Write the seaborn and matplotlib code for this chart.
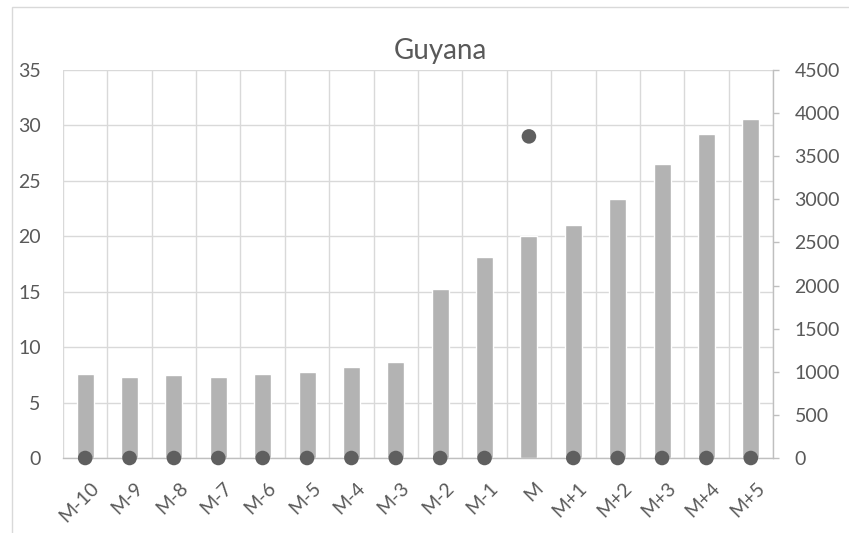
import matplotlib
matplotlib.use("Agg")
import matplotlib.pyplot as plt
import matplotlib.transforms as mtransforms
from matplotlib.patches import Rectangle
from matplotlib.ticker import MultipleLocator, FixedLocator
import seaborn as sns
import pandas as pd

# Monthly series around reference month M
months = ["M-10", "M-9", "M-8", "M-7", "M-6", "M-5", "M-4", "M-3",
          "M-2", "M-1", "M", "M+1", "M+2", "M+3", "M+4", "M+5"]
bar_values = [7.6, 7.3, 7.5, 7.3, 7.6, 7.8, 8.2, 8.7,
              15.2, 18.1, 20.0, 21.0, 23.4, 26.5, 29.2, 30.6]
dot_values = [0, 0, 0, 0, 0, 0, 0, 0,
              0, 0, 3730, 0, 0, 0, 0, 0]

title = "Guyana"

sns.set_theme(style="white")
plt.rcParams["font.family"] = ["Lato", "DejaVu Sans"]

text_color = "#595959"
grid_color = "#d9d9d9"
axis_color = "#bfbfbf"
bar_color = "#b3b3b3"
dot_color = "#5f5f5f"

df = pd.DataFrame({"month": months, "bars": bar_values, "dots": dot_values})

W, H = 849, 533
fig = plt.figure(figsize=(W / 100, H / 100), dpi=100)
fig.patch.set_facecolor("white")

# chart-area border (runs off the right and bottom edges)
fig.add_artist(Rectangle((12 / W, -0.05), 1.2, 1 - 7 / H + 0.05,
                         transform=fig.transFigure, fill=False,
                         edgecolor=grid_color, linewidth=1.0, zorder=0))

ax = fig.add_axes([63 / W, 1 - 458 / H, (773 - 63) / W, (458 - 70) / H])
ax.set_facecolor("none")

sns.barplot(data=df, x="month", y="bars", color=bar_color, width=0.385,
            saturation=1, ax=ax, zorder=2)

ax.set_ylim(0, 35)
ax.yaxis.set_major_locator(MultipleLocator(5))
ax.set_xlim(-0.5, len(months) - 0.5)
ax.xaxis.set_minor_locator(FixedLocator([i - 0.5 for i in range(len(months) + 1)]))
ax.grid(True, which="major", axis="y", color=grid_color, linewidth=1.0, zorder=0)
ax.grid(True, which="minor", axis="x", color=grid_color, linewidth=1.0, zorder=0)
ax.set_axisbelow(True)
ax.set_xlabel("")
ax.set_ylabel("")
for s in ["top", "right", "left"]:
    ax.spines[s].set_visible(False)
ax.spines["bottom"].set_color(axis_color)
ax.spines["bottom"].set_linewidth(1.0)
ax.tick_params(axis="y", length=0, labelsize=14, labelcolor=text_color, pad=16)
ax.tick_params(axis="x", which="both", length=0, labelbottom=False)

# slanted month labels hung below the axis, one per category position
label_tf = (mtransforms.blended_transform_factory(ax.transData, ax.transAxes)
            + mtransforms.ScaledTranslation(11 / 100, -27 / 100, fig.dpi_scale_trans))
for i, m in enumerate(months):
    ax.text(i, 0, m, transform=label_tf, rotation=45, rotation_mode="anchor",
            ha="right", va="center", fontsize=14, color=text_color)

ax2 = ax.twinx()
sns.scatterplot(data=df, x="month", y="dots", color=dot_color, s=110,
                edgecolor="none", ax=ax2, zorder=5, clip_on=False)
ax2.set_ylim(0, 4500)
ax2.yaxis.set_major_locator(MultipleLocator(500))
ax2.set_xlim(-0.5, len(months) - 0.5)
ax2.set_ylabel("")
ax2.set_xlabel("")
for s in ["top", "left", "bottom"]:
    ax2.spines[s].set_visible(False)
ax2.spines["right"].set_visible(True)
ax2.spines["right"].set_color(axis_color)
ax2.spines["right"].set_linewidth(1.0)
ax2.tick_params(axis="y", right=True, length=4.5, width=1, color=axis_color,
                labelsize=14, labelcolor=text_color, pad=11)
ax2.tick_params(axis="x", length=0, labelbottom=False)
ax2.grid(False)

fig.text(440 / W, 1 - 51 / H, title, ha="center", va="center",
         fontsize=20, color=text_color)

fig.savefig("out.png", dpi=100)
